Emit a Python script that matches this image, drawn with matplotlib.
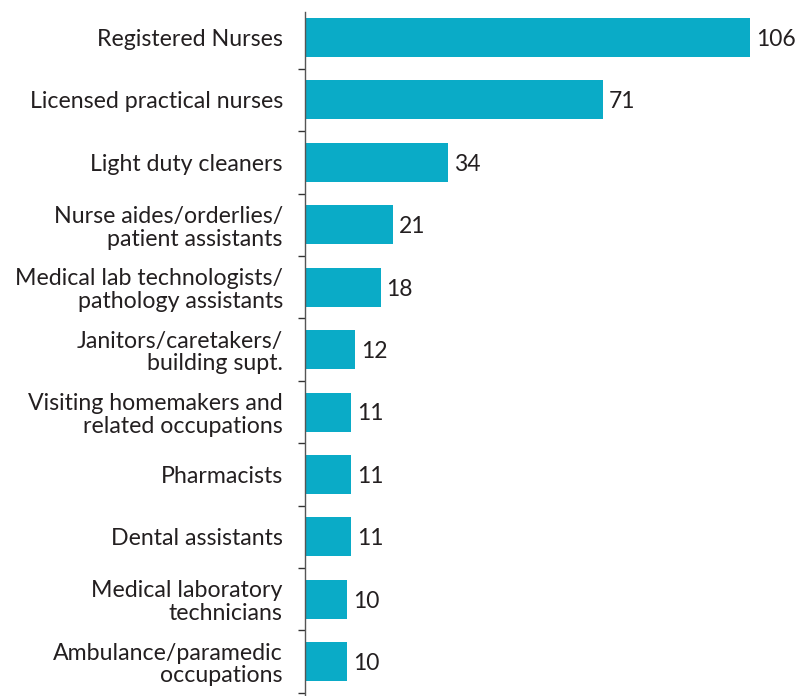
import matplotlib
matplotlib.use("Agg")
import matplotlib.pyplot as plt
import numpy as np

# Occupations and counts
occupations = [
    "Registered Nurses",
    "Licensed practical nurses",
    "Light duty cleaners",
    "Nurse aides/orderlies/\npatient assistants",
    "Medical lab technologists/\npathology assistants",
    "Janitors/caretakers/\nbuilding supt.",
    "Visiting homemakers and\nrelated occupations",
    "Pharmacists",
    "Dental assistants",
    "Medical laboratory\ntechnicians",
    "Ambulance/paramedic\noccupations",
]
counts = [106, 71, 34, 21, 18, 12, 11, 11, 11, 10, 10]

plt.rcParams["font.family"] = ["Lato", "DejaVu Sans"]
text_colour = "#231f20"
bar_colour = "#0aabc7"

fig = plt.figure(figsize=(7.96, 6.96), dpi=100)
ax = fig.add_axes([305 / 796, 0, 485 / 796, 684 / 696])

ys = np.arange(len(occupations))
ax.barh(ys, counts, height=0.625, color=bar_colour)
for y, c in zip(ys, counts):
    ax.text(c + 1.4, y + 0.03, str(c), va="center", ha="left", fontsize=16.5, color=text_colour)

ax.set_yticks(ys)
ax.set_yticklabels(occupations, fontsize=16.7, color=text_colour, linespacing=1.1)
# boundary ticks between categories
ax.set_yticks(np.arange(-0.5, len(occupations)), minor=True)
# limits set after ticks, otherwise set_yticks widens them
ax.set_xlim(0, 485 / 4.2)
ax.set_ylim(10.55, -0.41)
ax.tick_params(axis="y", which="major", length=0, pad=16)
ax.tick_params(axis="y", which="minor", length=5, width=1, color="#333333")
ax.set_xticks([])
for side in ["top", "right", "bottom"]:
    ax.spines[side].set_visible(False)
ax.spines["left"].set_color("#555555")
ax.spines["left"].set_linewidth(1)

plt.savefig("out.png", dpi=100)
